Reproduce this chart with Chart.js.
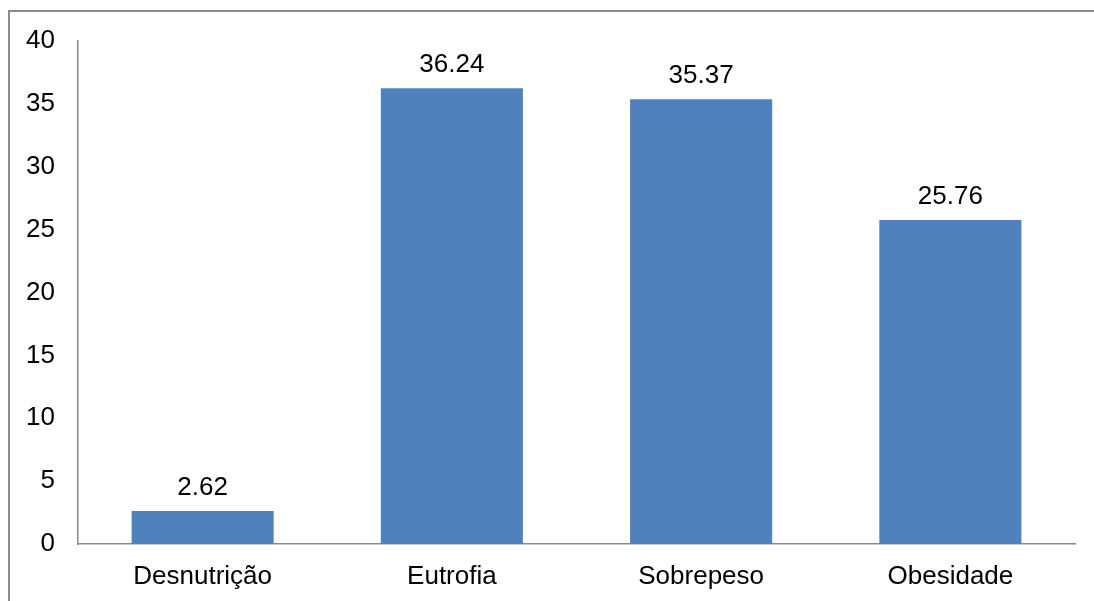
<!DOCTYPE html>
<html>
<head>
<meta charset="utf-8">
<script src="https://cdn.jsdelivr.net/npm/chart.js@4/dist/chart.umd.min.js"></script>
<style>
  html, body { margin: 0; padding: 0; background: #fff; overflow: hidden; }
  #wrap { width: 1094px; height: 601px; }
</style>
</head>
<body>
<div id="wrap"><canvas id="myChart" width="1094" height="601"></canvas></div>
<script>
var categories = ["Desnutrição", "Eutrofia", "Sobrepeso", "Obesidade"];
var values = [2.62, 36.24, 35.37, 25.76];
var yTicks = [0, 5, 10, 15, 20, 25, 30, 35, 40];

const canvas = document.getElementById("myChart");
const ctx = canvas.getContext("2d");

Chart.defaults.font.family = "'Liberation Sans', Arial, sans-serif";
Chart.defaults.color = "#000";

// outer frame of the picture (only top and left edges visible)
var framePlugin = {
  id: "frame",
  beforeDraw: (chart) => {
    var c = chart.ctx;
    c.save();
    c.fillStyle = "#fff";
    c.fillRect(0, 0, chart.width, chart.height);
    c.strokeStyle = "#8c8c8c";
    c.lineWidth = 2;
    c.strokeRect(9, 11, chart.width + 50, chart.height + 50);
    c.restore();
  }
};

// value labels above the bars
var valueLabels = {
  id: "valueLabels",
  afterDatasetsDraw: (chart) => {
    var c = chart.ctx;
    var meta = chart.getDatasetMeta(0);
    c.save();
    c.font = "26px 'Liberation Sans', Arial, sans-serif";
    c.fillStyle = "#000";
    c.textAlign = "center";
    c.textBaseline = "alphabetic";
    meta.data.forEach((bar, i) => {
      c.fillText(values[i].toFixed(2), bar.x, bar.y - 16);
    });
    c.restore();
  }
};

new Chart(ctx, {
  type: "bar",
  data: {
    labels: categories,
    datasets: [
      {
        label: "Série 1",
        data: values,
        backgroundColor: "#4f81bd",
        borderWidth: 0,
        categoryPercentage: 1,
        barPercentage: 0.57
      }
    ]
  },
  options: {
    responsive: false,
    animation: false,
    layout: {
      padding: { top: 41, right: 19, bottom: 0, left: 0 }
    },
    scales: {
      y: {
        min: 0,
        max: 40,
        afterBuildTicks: (scale) => {
          scale.ticks = yTicks.map((v) => ({ value: v }));
        },
        afterFit: (scale) => { scale.width = 78; },
        grid: { display: false, drawTicks: false },
        border: { display: true, color: "#8a8a8a", width: 1.5 },
        ticks: {
          padding: 23,
          color: "#000",
          font: { size: 26 }
        }
      },
      x: {
        afterFit: (scale) => { scale.height = 57; },
        grid: { display: false, drawTicks: false },
        border: { display: true, color: "#8a8a8a", width: 1.5 },
        ticks: {
          padding: 17,
          color: "#000",
          font: { size: 26 },
          maxRotation: 0
        }
      }
    },
    plugins: {
      legend: { display: false },
      title: { display: false },
      tooltip: { enabled: false }
    }
  },
  plugins: [framePlugin, valueLabels]
});
</script>
</body>
</html>
